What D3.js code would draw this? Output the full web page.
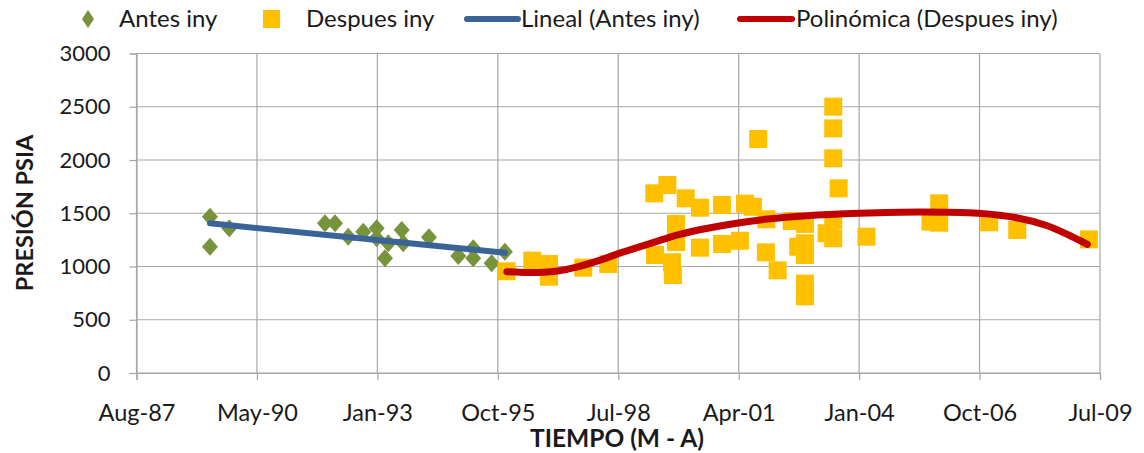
<!DOCTYPE html>
<html><head><meta charset="utf-8">
<script src="https://cdn.jsdelivr.net/npm/d3@7"></script>
<style>body{margin:0;background:#fff}svg{display:block;font-family:Lato,"Open Sans",sans-serif}</style>
</head><body><svg id="c" width="1144" height="453"></svg>
<script>
// x values are Excel serial day numbers, y values pressure in psia
const antesX = [32610,32610,32770,33565,33648,33758,33883,33994,33994,34063,34091,34202,34215,34428,34672,34796,34796,34949,35059];
const antesY = [1468,1186,1359,1406,1406,1280,1327,1359,1265,1077,1218,1343,1218,1274,1099,1171,1077,1030,1139];
const despuesX = [35073,35286,35425,35425,35709,35917,36299,36305,36408,36479,36479,36446,36454,36560,36678,36678,36861,36861,37010,37052,37118,37162,37230,37226,37323,37440,37494,37550,37550,37550,37550,37550,37730,37785,37785,37785,37785,37785,37830,38061,38592,38665,38665,39080,39313,39908];
const despuesY = [955,1055,1023,904,989,1023,1687,1108,1765,1400,1230,1040,920,1640,1552,1177,1577,1211,1242,1590,1561,2197,1443,1133,964,1427,1186,1400,1218,1108,839,720,1312,2501,2297,2016,1437,1265,1734,1280,1421,1593,1411,1415,1343,1255];
// polynomial trendline (Despues iny)
const polyX = [35075,35336,35494,35653,35844,36012,36288,36511,36765,37010,37242,37560,38004,38513,38990,39307,39562,39752,39895];
const polyY = [951,943,958,995,1058,1125,1225,1302,1364,1411,1446,1477,1500,1512,1500,1458,1383,1289,1208];
const xTicks = [32000,33000,34000,35000,36000,37000,38000,39000,40000];
const xTickLabels = ["Aug-87","May-90","Jan-93","Oct-95","Jul-98","Apr-01","Jan-04","Oct-06","Jul-09"];
const yTicks = [0,500,1000,1500,2000,2500,3000];
const legendLabels = ["Antes iny","Despues iny","Lineal (Antes iny)","Polinómica (Despues iny)"];

const svg = d3.select("#c");
const L=136.5,R=1100,T=53.5,B=373;
const x = d3.scaleLinear().domain([32000,40000]).range([L,R]);
const y = d3.scaleLinear().domain([0,3000]).range([B,T]);
const grid="#a6a6a6", txt="#1a1a1a";
const cGreen="#77933c", cYellow="#ffc000", cBlue="#3a6397", cRed="#c00000";

svg.append("g").selectAll("line").data(yTicks).join("line")
  .attr("x1",L).attr("x2",R).attr("y1",d=>y(d)).attr("y2",d=>y(d)).attr("stroke",grid).attr("stroke-width",1.2);
svg.append("g").selectAll("line").data(xTicks).join("line")
  .attr("x1",d=>x(d)).attr("x2",d=>x(d)).attr("y1",T).attr("y2",B).attr("stroke",grid).attr("stroke-width",1.2);

const ya = svg.append("g").attr("transform",`translate(${L},0)`)
  .call(d3.axisLeft(y).tickValues(yTicks).tickFormat(d3.format("d")).tickSize(7).tickPadding(19));
const xa = svg.append("g").attr("transform",`translate(0,${B})`)
  .call(d3.axisBottom(x).tickValues(xTicks).tickFormat((d,i)=>xTickLabels[i]).tickSize(7).tickPadding(24));
[ya,xa].forEach(g=>{
  g.selectAll("path,line").attr("stroke",grid).attr("stroke-width",1.2);
  g.selectAll("text").attr("fill",txt).style("font-family","Lato");
});
ya.selectAll("text").style("font-size","22px");
xa.selectAll("text").style("font-size","23.5px");

function linFit(xs,ys){const n=xs.length,mx=d3.mean(xs),my=d3.mean(ys);let sxy=0,sxx=0;for(let i=0;i<n;i++){sxy+=(xs[i]-mx)*(ys[i]-my);sxx+=(xs[i]-mx)**2;}const b=sxy/sxx;return t=>my+b*(t-mx);}

const line=d3.line().x(d=>x(d[0])).y(d=>y(d[1]));

// markers
svg.append("g").selectAll("path").data(antesX.map((v,i)=>[v,antesY[i]])).join("path")
  .attr("d","M0,-9L8,0L0,9L-8,0Z").attr("transform",d=>`translate(${x(d[0])},${y(d[1])})`).attr("fill",cGreen);
svg.append("g").selectAll("rect").data(despuesX.map((v,i)=>[v,despuesY[i]])).join("rect")
  .attr("x",d=>x(d[0])-9).attr("y",d=>y(d[1])-9).attr("width",18).attr("height",18).attr("fill",cYellow);

// trendlines
const lf=linFit(antesX,antesY);
svg.append("path").datum(d3.extent(antesX).map(t=>[t,lf(t)])).attr("d",line)
  .attr("stroke",cBlue).attr("stroke-width",6).attr("fill","none").attr("stroke-linecap","round");
svg.append("path").datum(polyX.map((v,i)=>[v,polyY[i]])).attr("d",line.curve(d3.curveCatmullRom.alpha(0.5)))
  .attr("stroke",cRed).attr("stroke-width",7).attr("fill","none").attr("stroke-linecap","round").attr("stroke-linejoin","round");

// axis titles
svg.append("text").attr("transform","translate(33,213) rotate(-90)").attr("text-anchor","middle")
  .attr("font-weight","bold").style("font-size","23.5px").attr("fill",txt).text("PRESIÓN PSIA");
svg.append("text").attr("x",617).attr("y",447).attr("text-anchor","middle")
  .attr("font-weight","bold").style("font-size","24.5px").attr("fill",txt).text("TIEMPO (M - A)");

// legend
const lg=svg.append("g").style("font-size","24px").attr("fill",txt);
lg.append("path").attr("d","M0,-9L6,0L0,9L-6,0Z").attr("transform","translate(88,19)").attr("fill",cGreen);
lg.append("text").attr("x",119).attr("y",27).text(legendLabels[0]);
lg.append("rect").attr("x",263).attr("y",10).attr("width",17).attr("height",18).attr("fill",cYellow);
lg.append("text").attr("x",306).attr("y",27).text(legendLabels[1]);
lg.append("line").attr("x1",467).attr("x2",518).attr("y1",19).attr("y2",19).attr("stroke",cBlue).attr("stroke-width",6).attr("stroke-linecap","round");
lg.append("text").attr("x",521).attr("y",27).text(legendLabels[2]);
lg.append("line").attr("x1",740).attr("x2",792).attr("y1",19).attr("y2",19).attr("stroke",cRed).attr("stroke-width",6).attr("stroke-linecap","round");
lg.append("text").attr("x",796).attr("y",27).text(legendLabels[3]);
</script></body></html>
